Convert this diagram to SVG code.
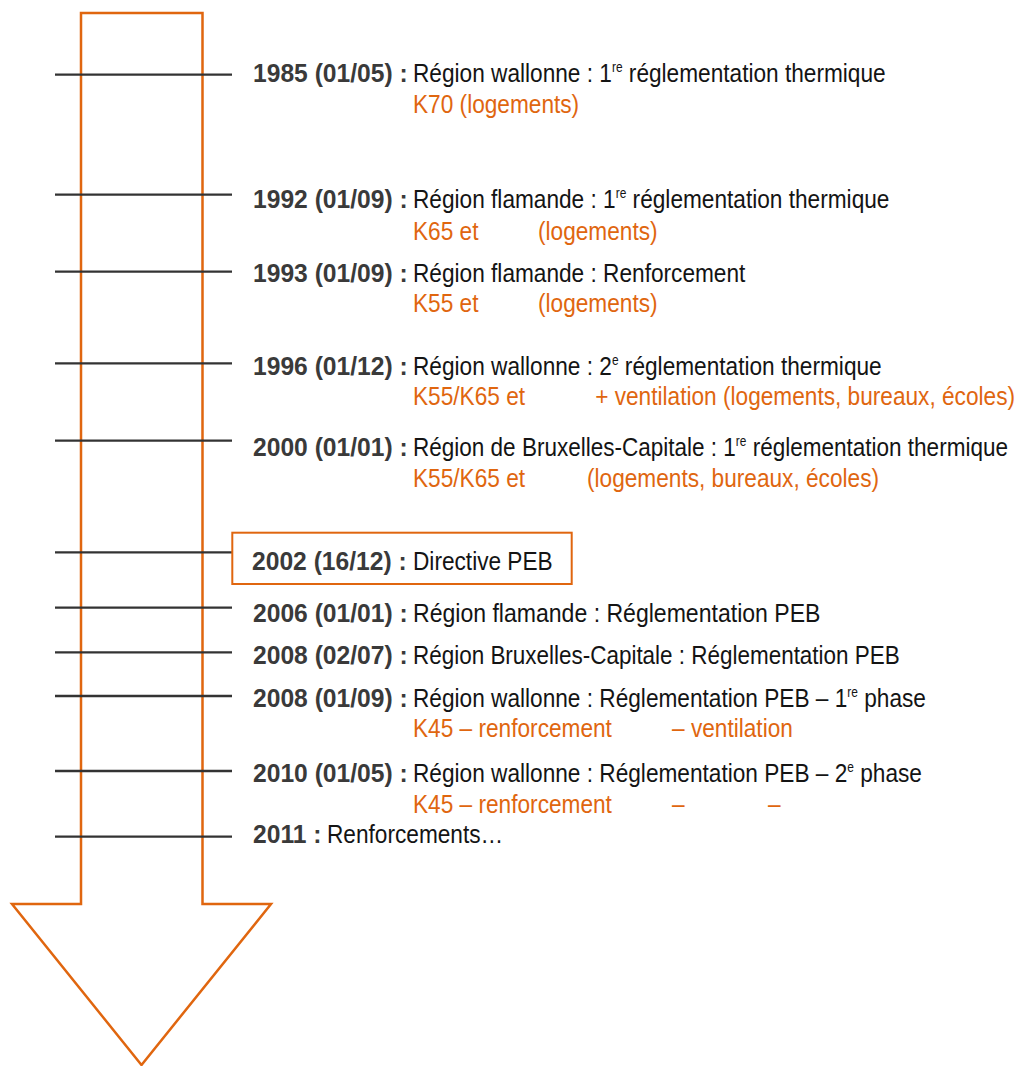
<svg xmlns="http://www.w3.org/2000/svg" width="1018" height="1066" viewBox="0 0 1018 1066">
<style>
text{font-family:"Liberation Sans","Arial",sans-serif;font-size:26.5px;fill:#141414}
.b{font-weight:bold;fill:#3a3a3a}
.o{fill:#e0660f}
.sup{font-size:14px}
.end{text-anchor:end}
.tick{stroke:#333;stroke-width:2.3}
.arrow{fill:none;stroke:#e0660f;stroke-width:2.5}
</style>
<rect width="1018" height="1066" fill="#fff"/>
<g id="arrow"><path class="arrow" d="M81,13 H202.5 V904 H271 L141.5,1065 L12,904 H81 Z"/></g>
<g id="connectors">
<line class="tick" x1="55" y1="74.7" x2="232" y2="74.7"/>
<line class="tick" x1="55" y1="194.7" x2="232" y2="194.7"/>
<line class="tick" x1="55" y1="271.7" x2="232" y2="271.7"/>
<line class="tick" x1="55" y1="363.3" x2="232" y2="363.3"/>
<line class="tick" x1="55" y1="440.7" x2="232" y2="440.7"/>
<line class="tick" x1="55" y1="552.3" x2="232" y2="552.3"/>
<line class="tick" x1="55" y1="607.7" x2="232" y2="607.7"/>
<line class="tick" x1="55" y1="652.3" x2="232" y2="652.3"/>
<line class="tick" x1="55" y1="696" x2="232" y2="696"/>
<line class="tick" x1="55" y1="771" x2="232" y2="771"/>
<line class="tick" x1="55" y1="836.7" x2="232" y2="836.7"/>
</g>
<g id="e1985">
<text class="b" transform="translate(253,82.3) scale(0.93,1)">1985 (01/05) :</text>
<text transform="translate(413,82.3) scale(0.855,1)">Région wallonne : 1<tspan class="sup" dy="-10">re</tspan><tspan dy="10"> réglementation thermique</tspan></text>
<text class="o" transform="translate(413,113.3) scale(0.855,1)">K70 (logements)</text>
</g>
<g id="e1992">
<text class="b" transform="translate(253,207.7) scale(0.93,1)">1992 (01/09) :</text>
<text transform="translate(413,207.7) scale(0.855,1)">Région flamande : 1<tspan class="sup" dy="-10">re</tspan><tspan dy="10"> réglementation thermique</tspan></text>
<text class="o" transform="translate(413,240) scale(0.855,1)">K65 et</text>
<text class="o" transform="translate(538,240) scale(0.855,1)">(logements)</text>
</g>
<g id="e1993">
<text class="b" transform="translate(253,281.7) scale(0.93,1)">1993 (01/09) :</text>
<text transform="translate(413,281.7) scale(0.855,1)">Région flamande : Renforcement</text>
<text class="o" transform="translate(413,311.7) scale(0.855,1)">K55 et</text>
<text class="o" transform="translate(538,311.7) scale(0.855,1)">(logements)</text>
</g>
<g id="e1996">
<text class="b" transform="translate(253,375) scale(0.93,1)">1996 (01/12) :</text>
<text transform="translate(413,375) scale(0.855,1)">Région wallonne : 2<tspan class="sup" dy="-10">e</tspan><tspan dy="10"> réglementation thermique</tspan></text>
<text class="o" transform="translate(413,405) scale(0.855,1)">K55/K65 et</text>
<text class="o end" transform="translate(1015,405) scale(0.855,1)">+ ventilation (logements, bureaux, écoles)</text>
</g>
<g id="e2000">
<text class="b" transform="translate(253,456) scale(0.93,1)">2000 (01/01) :</text>
<text transform="translate(413,456) scale(0.85,1)">Région de Bruxelles-Capitale : 1<tspan class="sup" dy="-10">re</tspan><tspan dy="10"> réglementation thermique</tspan></text>
<text class="o" transform="translate(413,486.7) scale(0.855,1)">K55/K65 et</text>
<text class="o" transform="translate(587,486.7) scale(0.855,1)">(logements, bureaux, écoles)</text>
</g>
<g id="e2002">
<rect x="232.3" y="532.7" width="339.4" height="51.3" fill="none" stroke="#e0660f" stroke-width="2"/>
<text class="b" transform="translate(252,570) scale(0.93,1)">2002 (16/12) :</text>
<text transform="translate(413,570) scale(0.855,1)">Directive PEB</text>
</g>
<g id="e2006">
<text class="b" transform="translate(253,621.7) scale(0.93,1)">2006 (01/01) :</text>
<text transform="translate(413,621.7) scale(0.87,1)">Région flamande : Réglementation PEB</text>
</g>
<g id="e2008a">
<text class="b" transform="translate(253,664) scale(0.93,1)">2008 (02/07) :</text>
<text transform="translate(413,664) scale(0.848,1)">Région Bruxelles-Capitale : Réglementation PEB</text>
</g>
<g id="e2008b">
<text class="b" transform="translate(253,707.3) scale(0.93,1)">2008 (01/09) :</text>
<text transform="translate(413,707.3) scale(0.855,1)">Région wallonne : Réglementation PEB – 1<tspan class="sup" dy="-10">re</tspan><tspan dy="10"> phase</tspan></text>
<text class="o" transform="translate(413,736.7) scale(0.855,1)">K45 – renforcement</text>
<text class="o" transform="translate(672,736.7) scale(0.855,1)">– ventilation</text>
</g>
<g id="e2010">
<text class="b" transform="translate(253,781.7) scale(0.93,1)">2010 (01/05) :</text>
<text transform="translate(413,781.7) scale(0.855,1)">Région wallonne : Réglementation PEB – 2<tspan class="sup" dy="-10">e</tspan><tspan dy="10"> phase</tspan></text>
<text class="o" transform="translate(413,812.7) scale(0.855,1)">K45 – renforcement</text>
<text class="o" transform="translate(672,812.7) scale(0.855,1)">–</text>
<text class="o" transform="translate(768,812.7) scale(0.855,1)">–</text>
</g>
<g id="e2011">
<text class="b" transform="translate(253,843.3) scale(0.93,1)">2011 :</text>
<text transform="translate(327,843.3) scale(0.855,1)">Renforcements…</text>
</g>
</svg>
